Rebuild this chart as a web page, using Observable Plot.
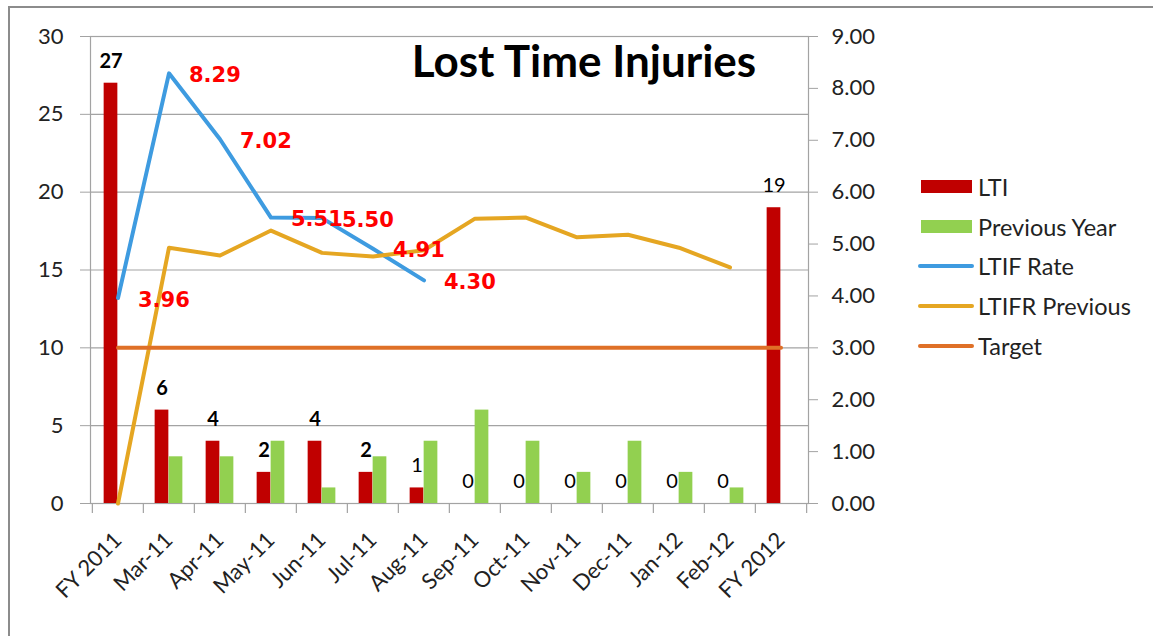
<!DOCTYPE html>
<html>
<head>
<meta charset="utf-8">
<script src="https://cdn.jsdelivr.net/npm/d3@7"></script>
<script src="https://cdn.jsdelivr.net/npm/@observablehq/plot@0.6"></script>
<style>
  html, body { margin: 0; padding: 0; background: #fff; }
  #wrap { position: relative; width: 1153px; height: 636px; overflow: hidden; font-family: Lato, sans-serif; }
  #frame { position: absolute; left: 8px; top: 6px; width: 1200px; height: 700px; border-left: 2px solid #8c8c8c; border-top: 2px solid #8c8c8c; }
  #title { position: absolute; left: 584px; top: 38px; transform: translateX(-50%); font: bold 44px Lato, sans-serif; line-height: 1; white-space: nowrap; color: #000; }
  #legend { position: absolute; left: 918px; top: 167px; font: 23.5px Lato, sans-serif; color: #222; }
  .row { display: flex; align-items: center; height: 39.7px; }
  .sw { width: 56px; display: flex; justify-content: center; margin-right: 4px; }
  .bar { width: 51px; height: 13px; }
  .ln { width: 56px; height: 4px; border-radius: 2px; }
</style>
</head>
<body>
<div id="wrap">
  <div id="frame"></div>
  <div id="chart"></div>
  <div id="title">Lost Time Injuries</div>
  <div id="legend"></div>
</div>
<script>
const categories = ["FY 2011","Mar-11","Apr-11","May-11","Jun-11","Jul-11","Aug-11","Sep-11","Oct-11","Nov-11","Dec-11","Jan-12","Feb-12","FY 2012"];
const lti = [27,6,4,2,4,2,1,0,0,0,0,0,0,19];
const previousYear = [null,3,3,4,1,3,4,6,4,2,4,2,1,null];
const ltifRate = [3.96,8.29,7.02,5.51,5.50,4.91,4.30,null,null,null,null,null,null,null];
const ltifrPrevious = [0,4.93,4.78,5.26,4.83,4.76,4.88,5.49,5.51,5.13,5.18,4.93,4.55,null];
const target = [3,3,3,3,3,3,3,3,3,3,3,3,3,3];
const leftTicks = [0,5,10,15,20,25,30];
const rightTicks = [0,1,2,3,4,5,6,7,8,9];
const leftMax = 30, rightMax = 9;

const colors = {lti:"#C00000", prev:"#92D050", rate:"#3E9BE0", prevRate:"#E5A622", target:"#DF7027"};
const legendItems = [
  {name:"LTI", type:"bar", color: colors.lti},
  {name:"Previous Year", type:"bar", color: colors.prev},
  {name:"LTIF Rate", type:"line", color: colors.rate},
  {name:"LTIFR Previous", type:"line", color: colors.prevRate},
  {name:"Target", type:"line", color: colors.target}
];

const k = leftMax / rightMax;
const rows = categories.map((c,i) => ({i, cat:c, lti:lti[i], prev:previousYear[i], rate:ltifRate[i], prevRate:ltifrPrevious[i], target:target[i]}));

const W = 1153, H = 636, mL = 90, mR = 345, mT = 36, mB = 133;
const bw = (W - mL - mR) / categories.length;
const barW = 14;
const gap = (bw - 2*barW) / 2;
const tickLen = 10 * leftMax / (H - mT - mB);
const grid = "#a3a3a3";

const ltiLabel = {x: "cat", y: "lti", text: d => String(d.lti), dx: -(bw/2 - gap - barW/2), dy: -22, fill: "#000", fontSize: 20, fontFamily: "Lato"};

const chart = Plot.plot({
  width: W, height: H,
  marginLeft: mL, marginRight: mR, marginTop: mT, marginBottom: mB,
  style: {fontFamily: "Lato, sans-serif", fontSize: "21px", color: "#222", background: "transparent"},
  x: {type: "band", domain: categories, padding: 0, axis: null, label: null},
  y: {domain: [0, leftMax], axis: null, label: null},
  marks: [
    Plot.ruleY(leftTicks, {stroke: grid, strokeWidth: 1.2}),
    Plot.frame({stroke: grid, strokeWidth: 1.2}),
    Plot.axisY({anchor: "left", ticks: leftTicks, tickSize: 10, tickPadding: 17, stroke: grid, fill: "#222", fontSize: 22, label: null}),
    Plot.axisY({anchor: "right", ticks: rightTicks.map(v => v*k), tickFormat: d => (d/k).toFixed(2), tickSize: 9, tickPadding: 14, stroke: grid, fill: "#222", fontSize: 22, label: null}),
    Plot.ruleX(categories, {x: d => d, dx: -bw/2, y1: 0, y2: -tickLen, stroke: grid, strokeWidth: 1.2}),
    Plot.ruleX(categories.slice(-1), {x: d => d, dx: bw/2, y1: 0, y2: -tickLen, stroke: grid, strokeWidth: 1.2}),
    Plot.axisX({ticks: categories, tickSize: 0, tickRotate: -45, tickPadding: 33, fill: "#222", fontSize: 22, label: null}),
    Plot.barY(rows, {x: "cat", y: "lti", fill: colors.lti, insetLeft: gap, insetRight: gap + barW}),
    Plot.barY(rows.filter(d => d.prev != null), {x: "cat", y: "prev", fill: colors.prev, insetLeft: gap + barW, insetRight: gap}),
    Plot.line(rows.filter(d => d.rate != null), {x: "cat", y: d => d.rate*k, stroke: colors.rate, strokeWidth: 4}),
    Plot.line(rows.filter(d => d.prevRate != null), {x: "cat", y: d => d.prevRate*k, stroke: colors.prevRate, strokeWidth: 4}),
    Plot.line(rows, {x: "cat", y: d => d.target*k, stroke: colors.target, strokeWidth: 4}),
    Plot.text(rows.filter(d => d.i < 6), {...ltiLabel, fontWeight: "bold"}),
    Plot.text(rows.filter(d => d.i >= 6), {...ltiLabel, fontWeight: "normal"}),
    Plot.text(rows.filter(d => d.rate != null), {x: "cat", y: d => d.rate*k, text: d => d.rate.toFixed(2), dx: 20, dy: 2, textAnchor: "start", fill: "#FF0000", fontSize: 21, fontWeight: "bold", fontFamily: "DejaVu Sans"})
  ]
});
document.getElementById("chart").appendChild(chart);

const leg = d3.select("#legend");
legendItems.forEach(it => {
  const r = leg.append("div").attr("class", "row");
  const sw = r.append("div").attr("class", "sw");
  sw.append("div").attr("class", it.type === "bar" ? "bar" : "ln").style("background", it.color);
  r.append("span").text(it.name);
});
</script>
</body>
</html>
